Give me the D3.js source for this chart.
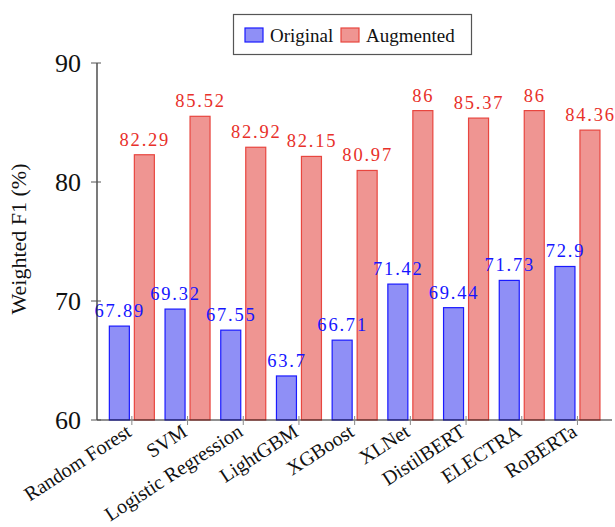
<!DOCTYPE html>
<html><head><meta charset="utf-8">
<script src="https://cdn.jsdelivr.net/npm/d3@7"></script>
<style>body{margin:0;background:#fff}svg{display:block}</style>
</head><body>
<script>
const categories = ["Random Forest","SVM","Logistic Regression","LightGBM","XGBoost","XLNet","DistilBERT","ELECTRA","RoBERTa"];
const originalValues = [67.89,69.32,67.55,63.7,66.71,71.42,69.44,71.73,72.9];
const augmentedValues = [82.29,85.52,82.92,82.15,80.97,86,85.37,86,84.36];
const seriesNames = ["Original","Augmented"];
const yTicks = [60,70,80,90];

const W=615,H=527;
const svg=d3.select("body").append("svg").attr("width",W).attr("height",H);
const font="'Liberation Serif','Times New Roman',serif";
const x=d3.scaleBand().domain(categories).range([104,605.3]);
const y=d3.scaleLinear().domain([60,90]).range([420,63]);
const colors={Original:{fill:"#8f8ff6",stroke:"#1a1aff",text:"#1515ff"},Augmented:{fill:"#ef9592",stroke:"#e8463f",text:"#e8302a"}};
const series=[{name:"Original",values:originalValues,off:-12.5},{name:"Augmented",values:augmentedValues,off:12.5}];
const bw=20;
const barG=svg.append("g"), labG=svg.append("g");

series.forEach(s=>{
  const c=colors[s.name];
  barG.append("g").selectAll("rect").data(categories).join("rect")
    .attr("x",d=>x(d)+x.bandwidth()/2+s.off-bw/2)
    .attr("y",(d,i)=>y(s.values[i]))
    .attr("width",bw)
    .attr("height",(d,i)=>y(60)-y(s.values[i]))
    .attr("fill",c.fill).attr("stroke",c.stroke).attr("stroke-width",1.2);
  labG.append("g").selectAll("text").data(categories).join("text")
    .attr("x",d=>x(d)+x.bandwidth()/2+s.off+0.5)
    .attr("y",(d,i)=>y(s.values[i])-9)
    .attr("text-anchor","middle")
    .attr("font-family",font).attr("font-size",18.5).attr("letter-spacing","1.8px")
    .attr("fill",c.text)
    .text((d,i)=>s.values[i]);
});

// axes
svg.append("line").attr("x1",97).attr("x2",612).attr("y1",420).attr("y2",420).attr("stroke","#222").attr("stroke-width",1.2);
svg.append("line").attr("x1",97).attr("x2",97).attr("y1",420).attr("y2",63).attr("stroke","#222").attr("stroke-width",1.2);
const yg=svg.append("g");
yg.selectAll("line").data(yTicks).join("line")
  .attr("x1",91).attr("x2",101).attr("y1",d=>y(d)).attr("y2",d=>y(d)).attr("stroke","#555").attr("stroke-width",1);
yg.selectAll("text").data(yTicks).join("text")
  .attr("x",81).attr("y",d=>y(d)).attr("dy","0.35em").attr("text-anchor","end")
  .attr("font-family",font).attr("font-size",26).attr("fill","#111").text(d=>d);
const xg=svg.append("g");
xg.selectAll("line").data(categories).join("line")
  .attr("x1",d=>x(d)+x.bandwidth()/2).attr("x2",d=>x(d)+x.bandwidth()/2)
  .attr("y1",416).attr("y2",425).attr("stroke","#888").attr("stroke-width",1);
xg.selectAll("text").data(categories).join("text")
  .attr("transform",d=>`translate(${x(d)+x.bandwidth()/2-3},${429}) rotate(-33)`)
  .attr("text-anchor","end").attr("dy","0.35em")
  .attr("font-family",font).attr("font-size",20).attr("fill","#111").text(d=>d);

// y label
svg.append("text").attr("transform","translate(26,239) rotate(-90)")
  .attr("text-anchor","middle").attr("font-family",font).attr("font-size",22).attr("fill","#111")
  .text("Weighted F1 (%)");

// legend
const lg=svg.append("g");
lg.append("rect").attr("x",233.5).attr("y",14.5).attr("width",238).attr("height",40)
  .attr("fill","#fff").attr("stroke","#555").attr("stroke-width",1.2);
const lx=[245,341];
seriesNames.forEach((n,i)=>{
  const c=colors[n];
  lg.append("rect").attr("x",lx[i]).attr("y",28).attr("width",18).attr("height",14)
    .attr("fill",c.fill).attr("stroke",c.stroke).attr("stroke-width",1.2);
  lg.append("text").attr("x",lx[i]+25).attr("y",35).attr("dy","0.35em")
    .attr("font-family",font).attr("font-size",19).attr("fill","#111").text(n);
});
</script>
</body></html>
